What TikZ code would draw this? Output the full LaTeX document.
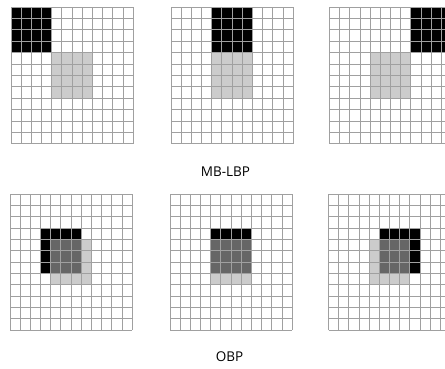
\documentclass[tikz,border=0pt]{standalone}
\usepackage{fontspec}
\setmainfont{Open Sans}
\definecolor{gridc}{HTML}{A0A0A0}
\definecolor{darkg}{HTML}{666666}
\definecolor{lightg}{HTML}{CCCCCC}
\tikzset{
  gridline/.style={draw=gridc, line width=0.9pt},
  lbl/.style={font=\fontsize{13.5}{16}\selectfont, anchor=base, inner sep=0pt}
}
\newcommand{\gridlines}{%
  \foreach \i in {0,...,12} {
    \draw[gridline] (\i,0) -- (\i,12);
    \draw[gridline] (0,\i) -- (12,\i);
  }%
}
\begin{document}
\begin{tikzpicture}
\useasboundingbox[fill=white] (0,0) rectangle (445pt,-368pt);
% ---- MB-LBP row ----
\begin{scope}[shift={(11pt,-7pt)}, x=10.18pt, y=-11.4pt]
  \fill[black] (0,0) rectangle (4,4);
  \fill[lightg] (4,4) rectangle (8,8);
  \gridlines
\end{scope}
\begin{scope}[shift={(171pt,-7pt)}, x=10.18pt, y=-11.4pt]
  \fill[black] (4,0) rectangle (8,4);
  \fill[lightg] (4,4) rectangle (8,8);
  \gridlines
\end{scope}
\begin{scope}[shift={(329.5pt,-7pt)}, x=10.18pt, y=-11.4pt]
  \fill[black] (8,0) rectangle (12,4);
  \fill[lightg] (4,4) rectangle (8,8);
  \gridlines
\end{scope}
\node[lbl] (mb) at (225.5pt,-176.7pt) {MB-LBP};
% ---- OBP row ----
\begin{scope}[shift={(10pt,-194.3pt)}, x=10.18pt, y=-11.32pt]
  \fill[lightg] (4,4) rectangle (8,8);
  \fill[black] (3,3) rectangle (7,7);
  \fill[darkg] (4,4) rectangle (7,7);
  \gridlines
\end{scope}
\begin{scope}[shift={(170pt,-194.3pt)}, x=10.18pt, y=-11.32pt]
  \fill[lightg] (4,4) rectangle (8,8);
  \fill[black] (4,3) rectangle (8,7);
  \fill[darkg] (4,4) rectangle (8,7);
  \gridlines
\end{scope}
\begin{scope}[shift={(328.5pt,-194.3pt)}, x=10.18pt, y=-11.32pt]
  \fill[lightg] (4,4) rectangle (8,8);
  \fill[black] (5,3) rectangle (9,7);
  \fill[darkg] (5,4) rectangle (8,7);
  \gridlines
\end{scope}
\node[lbl] (obp) at (229.6pt,-361.7pt) {OBP};
\end{tikzpicture}
\end{document}
